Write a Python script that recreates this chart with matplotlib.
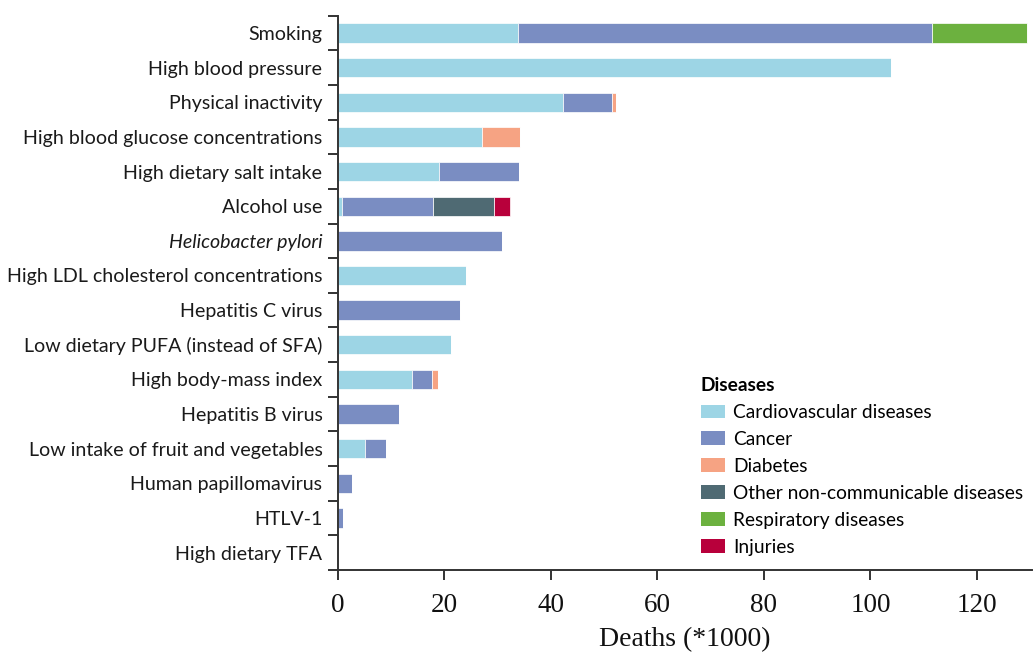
import matplotlib
matplotlib.use("Agg")
import matplotlib.pyplot as plt
import numpy as np
from matplotlib.patches import Patch

# Risk factors, top to bottom
factors = [
    "Smoking",
    "High blood pressure",
    "Physical inactivity",
    "High blood glucose concentrations",
    "High dietary salt intake",
    "Alcohol use",
    "Helicobacter pylori",
    "High LDL cholesterol concentrations",
    "Hepatitis C virus",
    "Low dietary PUFA (instead of SFA)",
    "High body-mass index",
    "Hepatitis B virus",
    "Low intake of fruit and vegetables",
    "Human papillomavirus",
    "HTLV-1",
    "High dietary TFA",
]

# Attributable deaths (thousands) by disease group
cardiovascular = [33.9, 103.9, 42.3, 27.1, 19.1, 0.8, 0.0, 24.0, 0.0, 21.3, 13.9, 0.0, 5.1, 0.0, 0.0, 0.0]
cancer         = [77.6, 0.0, 9.2, 0.0, 14.9, 17.1, 30.8, 0.0, 22.9, 0.0, 3.8, 11.5, 4.0, 2.6, 1.0, 0.0]
diabetes       = [0.0, 0.0, 0.8, 7.2, 0.0, 0.0, 0.0, 0.0, 0.0, 0.0, 1.2, 0.0, 0.0, 0.0, 0.0, 0.0]
other_ncd      = [0.0, 0.0, 0.0, 0.0, 0.0, 11.4, 0.0, 0.0, 0.0, 0.0, 0.0, 0.0, 0.0, 0.0, 0.0, 0.0]
respiratory    = [17.9, 0.0, 0.0, 0.0, 0.0, 0.0, 0.0, 0.0, 0.0, 0.0, 0.0, 0.0, 0.0, 0.0, 0.0, 0.0]
injuries       = [0.0, 0.0, 0.0, 0.0, 0.0, 3.0, 0.0, 0.0, 0.0, 0.0, 0.0, 0.0, 0.0, 0.0, 0.0, 0.0]

disease_names = [
    "Cardiovascular diseases",
    "Cancer",
    "Diabetes",
    "Other non-communicable diseases",
    "Respiratory diseases",
    "Injuries",
]
disease_colors = ["#9dd5e5", "#7a8dc2", "#f6a383", "#4f6a73", "#6cb13f", "#b8003b"]
xticks = [0, 20, 40, 60, 80, 100, 120]

series = [cardiovascular, cancer, diabetes, other_ncd, respiratory, injuries]

sans = ["Lato", "DejaVu Sans"]
serif = ["Liberation Serif", "DejaVu Serif"]

fig = plt.figure(figsize=(10.36, 6.55), dpi=100)
ax = fig.add_axes([0.326, 0.130, 0.670, 0.846])

y = np.arange(len(factors))
left = np.zeros(len(factors))
for vals, col in zip(series, disease_colors):
    vals = np.asarray(vals)
    ax.barh(y, vals, left=left, height=0.56, color=col,
            edgecolor="white", linewidth=0.5)
    left += vals

ax.set_ylim(len(factors) - 0.5, -0.5)
ax.set_xlim(0, 130.3)

for s in ("top", "right"):
    ax.spines[s].set_visible(False)
for s in ("left", "bottom"):
    ax.spines[s].set_color("#333333")
    ax.spines[s].set_linewidth(1.4)

# y axis: labels at bar centres, ticks between bars
ax.set_yticks(y)
ax.set_yticklabels(factors, fontfamily=sans, fontsize=14.1, color="#1a1a1a")
ax.tick_params(axis="y", which="major", length=0, pad=11)
ax.set_yticks(np.arange(-0.5, len(factors), 1.0), minor=True)
ax.tick_params(axis="y", which="minor", length=7, width=1.4, color="#333333", direction="out")
for lab in ax.get_yticklabels():
    if lab.get_text() == "Helicobacter pylori":
        lab.set_fontstyle("italic")

# x axis in serif
ax.set_xticks(xticks)
ax.set_xticklabels([str(t) for t in xticks], fontfamily=serif, fontsize=19.5, color="#111111")
ax.tick_params(axis="x", which="major", length=7.5, width=1.4, color="#333333",
               direction="out", pad=9.5)
ax.set_xlabel("Deaths (*1000)", fontfamily=serif, fontsize=20, color="#111111", labelpad=6)

handles = [Patch(facecolor=c, edgecolor="none") for c in disease_colors]
leg = fig.legend(handles, disease_names, loc="upper left",
                 bbox_to_anchor=(0.667, 0.439), frameon=False,
                 prop={"family": sans, "size": 13.75},
                 title="Diseases", title_fontproperties={"family": sans, "size": 13.75, "weight": "bold"},
                 alignment="left", handlelength=1.3, handleheight=0.7,
                 handletextpad=0.42, labelspacing=0.52, borderpad=0.0)

fig.savefig("out.png", dpi=100)
